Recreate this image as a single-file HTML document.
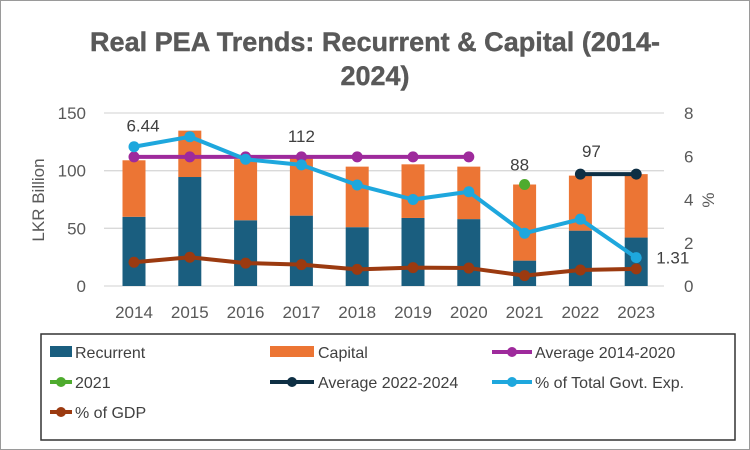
<!DOCTYPE html>
<html><head><meta charset="utf-8"><style>
html,body{margin:0;padding:0;background:#fff}
svg{display:block;font-family:"Liberation Sans",sans-serif}
</style></head><body>
<svg id="chart" width="750" height="450" viewBox="0 0 750 450" xmlns="http://www.w3.org/2000/svg">
<rect x="0.5" y="0.5" width="749" height="449" fill="#fff" stroke="#9a9a9a"/>
<text x="375" y="51" text-anchor="middle" font-size="27" font-weight="bold" fill="#595959" stroke="#595959" stroke-width="0.4" textLength="570" lengthAdjust="spacingAndGlyphs">Real PEA Trends: Recurrent &amp; Capital (2014-</text>
<text x="375" y="85" text-anchor="middle" font-size="27" font-weight="bold" fill="#595959" stroke="#595959" stroke-width="0.4">2024)</text>
<text transform="translate(44,200) rotate(-90)" text-anchor="middle" font-size="17" fill="#595959">LKR Billion</text>
<text transform="translate(714,200) rotate(-90)" text-anchor="middle" font-size="17" fill="#595959">%</text>
<g id="grid"></g><g id="bars"></g><g id="lines"></g><g id="labels"></g>
<g>
<rect x="41" y="334" width="694" height="106" fill="#fff" stroke="#333" stroke-width="1.5"/>
<g><rect x="50" y="346" width="22" height="11" fill="#1a5e7f"/><text x="75" y="358" font-size="16" fill="#404040">Recurrent</text></g>
<g><rect x="270" y="346" width="44" height="11" fill="#ec7534"/><text x="318" y="358" font-size="16" fill="#404040">Capital</text></g>
<g><line x1="492" y1="352" x2="532" y2="352" stroke="#9e2a9c" stroke-width="4"/><circle cx="512" cy="352" r="5" fill="#9e2a9c"/><text x="535" y="358" font-size="16" fill="#404040">Average 2014-2020</text></g>
<g><line x1="50" y1="382" x2="72" y2="382" stroke="#4eab2e" stroke-width="4"/><circle cx="61" cy="382" r="5" fill="#4eab2e"/><text x="75" y="388" font-size="16" fill="#404040">2021</text></g>
<g><line x1="270" y1="382" x2="314" y2="382" stroke="#0e2f44" stroke-width="4"/><circle cx="292" cy="382" r="5" fill="#0e2f44"/><text x="318" y="388" font-size="16" fill="#404040">Average 2022-2024</text></g>
<g><line x1="492" y1="382" x2="532" y2="382" stroke="#1ea7dd" stroke-width="4"/><circle cx="512" cy="382" r="5" fill="#1ea7dd"/><text x="535" y="388" font-size="16" fill="#404040">% of Total Govt. Exp.</text></g>
<g><line x1="50" y1="412" x2="72" y2="412" stroke="#9b3a10" stroke-width="4"/><circle cx="61" cy="412" r="5" fill="#9b3a10"/><text x="75" y="418" font-size="16" fill="#404040">% of GDP</text></g>
</g>
</svg>
<script>
const years = ["2014","2015","2016","2017","2018","2019","2020","2021","2022","2023"];
const recurrent = [60, 94.5, 57, 61, 51, 59, 58, 22, 48, 42];
const totals = [109, 134.7, 110, 112, 103.5, 105.5, 103.5, 88, 95.7, 97];
const pctGovt = [6.44, 6.9, 5.86, 5.6, 4.67, 4.0, 4.36, 2.44, 3.09, 1.31];
const pctGdp = [1.1, 1.33, 1.06, 0.99, 0.77, 0.85, 0.83, 0.48, 0.74, 0.79];
const avg1420 = [112, 112, 112, 112, 112, 112, 112, null, null, null];
const y2021 = [null, null, null, null, null, null, null, 88, null, null];
const avg2224 = [null, null, null, null, null, null, null, null, 97, 97];
const leftTicks = [0, 50, 100, 150];
const rightTicks = [0, 2, 4, 6, 8];

const NS = "http://www.w3.org/2000/svg";
const x0 = 134, step = 55.8, yBase = 286, yTop = 113;
const xs = i => x0 + i * step;
const yL = v => yBase - (v / 150) * (yBase - yTop);
const yR = v => yBase - (v / 8) * (yBase - yTop);
function mk(tag, attrs, parent) { const e = document.createElementNS(NS, tag); for (const k in attrs) e.setAttribute(k, attrs[k]); parent.appendChild(e); return e; }
const grid = document.getElementById('grid'), bars = document.getElementById('bars'), lines = document.getElementById('lines'), labels = document.getElementById('labels');

leftTicks.forEach(t => {
  const l = mk('line', {x1: 104, x2: 664, y1: yL(t), y2: yL(t), stroke: '#d9d9d9', 'stroke-width': 1.3}, grid);
  
  
  const tx = mk('text', {x: 86, y: yL(t) + 6, 'text-anchor': 'end', 'font-size': 17, fill: '#595959'}, grid);
  tx.textContent = t;
  
  
});
rightTicks.forEach(t => {
  const tx = mk('text', {x: 684, y: yR(t) + 6, 'text-anchor': 'start', 'font-size': 17, fill: '#595959'}, grid);
  tx.textContent = t;
  
  
});
years.forEach((yr, i) => {
  const tx = mk('text', {x: xs(i), y: 318, 'text-anchor': 'middle', 'font-size': 17, fill: '#595959'}, grid);
  tx.textContent = yr;
  
  
  const bw = 23;
  const r = mk('rect', {x: xs(i) - bw / 2, y: yL(recurrent[i]), width: bw, height: yBase - yL(recurrent[i]), fill: '#1a5e7f'}, bars);
  
  
  const c = mk('rect', {x: xs(i) - bw / 2, y: yL(totals[i]), width: bw, height: yL(recurrent[i]) - yL(totals[i]), fill: '#ec7534'}, bars);
  
  
});
function series(vals, yf, color, name) {
  const pts = [];
  vals.forEach((v, i) => { if (v !== null) pts.push([xs(i), yf(v)]); });
  if (pts.length > 1) {
    const p = mk('polyline', {points: pts.map(p => p.join(',')).join(' '), fill: 'none', stroke: color, 'stroke-width': 4, 'stroke-linejoin': 'round'}, lines);
    
    
  }
  pts.forEach(pt => {
    const c = mk('circle', {cx: pt[0], cy: pt[1], r: 5.5, fill: color}, lines);
    
    
  });
}
series(avg1420, yL, '#9e2a9c', 'average-2014-2020');
series(pctGdp, yR, '#9b3a10', 'pct-gdp');
series(pctGovt, yR, '#1ea7dd', 'pct-total-govt-exp');
series(y2021, yL, '#4eab2e', 'year-2021');
series(avg2224, yL, '#0e2f44', 'average-2022-2024');
function lab(txt, x, y, anchor, name) {
  const t = mk('text', {x: x, y: y, 'text-anchor': anchor, 'font-size': 17, fill: '#404040'}, labels);
  t.textContent = txt;
  
  
}
lab(pctGovt[0].toFixed(2), xs(0) + 9, yR(pctGovt[0]) - 15, 'middle', 'label-pct-govt-2014');
lab(String(avg1420[3]), xs(3), yL(avg1420[3]) - 15, 'middle', 'label-average-2014-2020');
lab(String(y2021[7]), xs(7) - 5, yL(y2021[7]) - 14, 'middle', 'label-2021');
lab(String(avg2224[8]), xs(8) + 11, yL(avg2224[8]) - 17, 'middle', 'label-average-2022-2024');
lab(pctGovt[9].toFixed(2), xs(9) + 20, yR(pctGovt[9]) + 6, 'start', 'label-pct-govt-2023');
</script>
</body></html>
